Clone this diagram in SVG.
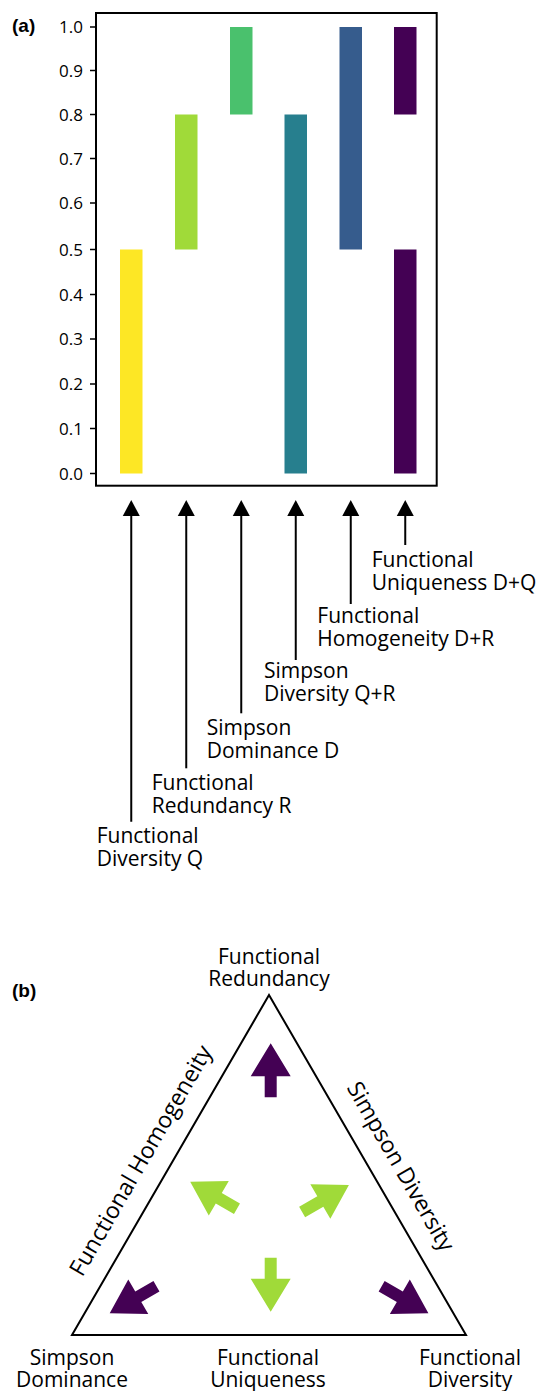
<svg xmlns="http://www.w3.org/2000/svg" width="537" height="1391" viewBox="0 0 537 1391">
<style>
.t{font-family:"Open Sans","Noto Sans","Liberation Sans",sans-serif;font-size:21px;fill:#000}
.r{font-size:23px}
.tk{font-family:"Open Sans","Noto Sans","Liberation Sans",sans-serif;font-size:17px;fill:#000;text-anchor:end}
.pl{font-family:"Liberation Sans",Arial,sans-serif;font-size:19px;font-weight:bold;fill:#000}
.m{text-anchor:middle}
.ax{stroke:#000;stroke-width:2;fill:none}
.cn{stroke:#000;stroke-width:2;fill:none}
</style>
<defs>
<path id="blk" d="M0,0 L20,33 L6,33 L6,54 L-6,54 L-6,33 L-20,33 Z"/>
<polygon id="ah" points="0,0 8.5,16 -8.5,16" fill="#000"/>
</defs>
<rect width="537" height="1391" fill="#fff"/>

<g id="panel-a">
<text class="pl" x="12" y="32">(a)</text>
<rect class="ax" x="96" y="13" width="340.7" height="472.7"/>
<g id="ticks" stroke="#000" stroke-width="1.5">
<line x1="90" y1="27" x2="96" y2="27"/>
<line x1="90" y1="70.5" x2="96" y2="70.5"/>
<line x1="90" y1="114.5" x2="96" y2="114.5"/>
<line x1="90" y1="158.5" x2="96" y2="158.5"/>
<line x1="90" y1="203" x2="96" y2="203"/>
<line x1="90" y1="249.5" x2="96" y2="249.5"/>
<line x1="90" y1="294.5" x2="96" y2="294.5"/>
<line x1="90" y1="339" x2="96" y2="339"/>
<line x1="90" y1="384" x2="96" y2="384"/>
<line x1="90" y1="428.5" x2="96" y2="428.5"/>
<line x1="90" y1="473.5" x2="96" y2="473.5"/>
</g>
<g id="ticklabels">
<text class="tk" x="83" y="33">1.0</text>
<text class="tk" x="83" y="76.5">0.9</text>
<text class="tk" x="83" y="120.5">0.8</text>
<text class="tk" x="83" y="164.5">0.7</text>
<text class="tk" x="83" y="209">0.6</text>
<text class="tk" x="83" y="255.5">0.5</text>
<text class="tk" x="83" y="300.5">0.4</text>
<text class="tk" x="83" y="345">0.3</text>
<text class="tk" x="83" y="390">0.2</text>
<text class="tk" x="83" y="434.5">0.1</text>
<text class="tk" x="83" y="479.5">0.0</text>
</g>
<g id="bars">
<rect x="120" y="249.5" width="22.5" height="224" fill="#FDE725"/>
<rect x="175" y="114.5" width="22.5" height="135" fill="#A0DA39"/>
<rect x="230" y="27" width="22.5" height="87.5" fill="#4AC16D"/>
<rect x="284.5" y="114.5" width="22.5" height="359" fill="#277F8E"/>
<rect x="339.5" y="27" width="22.5" height="222.5" fill="#365C8D"/>
<rect x="394" y="27" width="22.5" height="87.5" fill="#440154"/>
<rect x="394" y="249.5" width="22.5" height="224" fill="#440154"/>
</g>
</g>

<g id="connectors">
<line class="cn" x1="131.25" y1="515" x2="131.25" y2="821.7"/>
<use href="#ah" x="131.25" y="500"/>
<line class="cn" x1="186.25" y1="515" x2="186.25" y2="768.3"/>
<use href="#ah" x="186.25" y="500"/>
<line class="cn" x1="241.25" y1="515" x2="241.25" y2="713.3"/>
<use href="#ah" x="241.25" y="500"/>
<line class="cn" x1="295.75" y1="515" x2="295.75" y2="660"/>
<use href="#ah" x="295.75" y="500"/>
<line class="cn" x1="350.75" y1="515" x2="350.75" y2="604"/>
<use href="#ah" x="350.75" y="500"/>
<line class="cn" x1="405.25" y1="515" x2="405.25" y2="545"/>
<use href="#ah" x="405.25" y="500"/>
</g>

<g id="label-fd"><text class="t" x="96.7" y="843.3">Functional</text><text class="t" x="96.7" y="865.8">Diversity Q</text></g>
<g id="label-fr"><text class="t" x="151.7" y="790">Functional</text><text class="t" x="151.7" y="812.5">Redundancy R</text></g>
<g id="label-sd"><text class="t" x="206.7" y="735">Simpson</text><text class="t" x="206.7" y="757.5">Dominance D</text></g>
<g id="label-sdiv"><text class="t" x="264" y="678.3">Simpson</text><text class="t" x="264" y="700.8">Diversity Q+R</text></g>
<g id="label-fh"><text class="t" x="317.3" y="623">Functional</text><text class="t" x="317.3" y="645.5">Homogeneity D+R</text></g>
<g id="label-fu"><text class="t" x="371.7" y="567">Functional</text><text class="t" x="371.7" y="589.5">Uniqueness D+Q</text></g>

<g id="panel-b">
<text class="pl" x="12" y="997">(b)</text>
<polygon id="triangle" points="269,995 72,1335 466,1335" fill="none" stroke="#000" stroke-width="2" stroke-linejoin="miter"/>
<g id="top-label"><text class="t m" x="269" y="964.3">Functional</text><text class="t m" x="269" y="986">Redundancy</text></g>
<g id="bl-label"><text class="t m" x="72" y="1365">Simpson</text><text class="t m" x="72" y="1387">Dominance</text></g>
<g id="bm-label"><text class="t m" x="268" y="1365">Functional</text><text class="t m" x="268" y="1387">Uniqueness</text></g>
<g id="br-label"><text class="t m" x="470" y="1365">Functional</text><text class="t m" x="470" y="1387">Diversity</text></g>
<g id="left-edge-label"><text class="t r m" transform="translate(147.5,1164.5) rotate(-60)">Functional Homogeneity</text></g>
<g id="right-edge-label"><text class="t r m" transform="translate(394,1170.4) rotate(60)">Simpson Diversity</text></g>
<g id="arrows">
<use href="#blk" fill="#440154" transform="translate(270.7,1043.3)"/>
<use href="#blk" fill="#A0DA39" transform="translate(270.7,1311.7) rotate(180)"/>
<use href="#blk" fill="#A0DA39" transform="translate(190.2,1181.7) rotate(-60)"/>
<use href="#blk" fill="#A0DA39" transform="translate(348.9,1185) rotate(60)"/>
<use href="#blk" fill="#440154" transform="translate(109.7,1313.3) rotate(-120)"/>
<use href="#blk" fill="#440154" transform="translate(428.4,1313.3) rotate(120)"/>
</g>
</g>
</svg>
